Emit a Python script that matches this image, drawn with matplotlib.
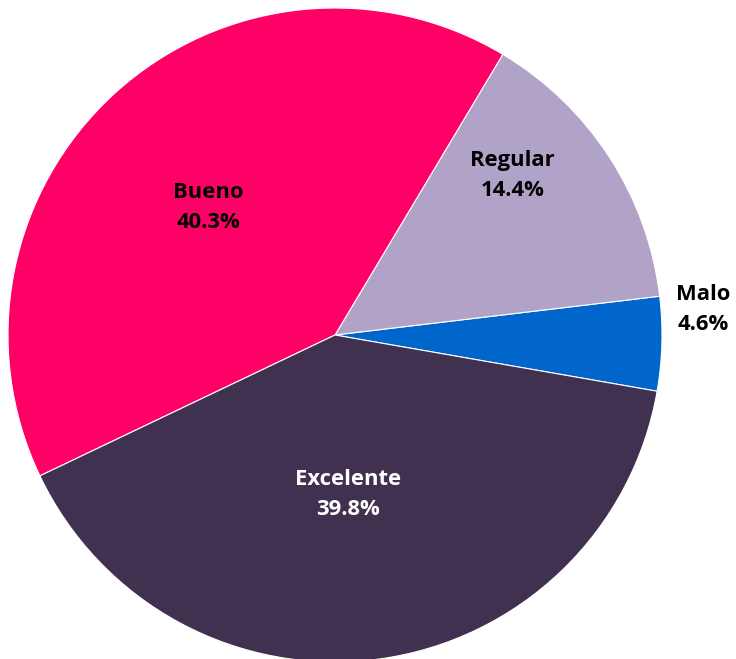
import numpy as np
import matplotlib.pyplot as plt

categorias = ["Malo", "Regular", "Bueno", "Excelente"]
porcentajes = [4.6, 14.4, 40.3, 39.8]
colores = ["#0066CC", "#B1A3C8", "#FF0066", "#403151"]
color_texto = ["black", "black", "black", "white"]

# label placement: radius (in pie radii) and angle nudge in degrees
pos_r = [1.13, 0.73, 0.55, 0.49]
pos_da = [5.5, 9.0, 2.4, -3.2]

fig = plt.figure(figsize=(7.36, 6.59), dpi=100)
ax = fig.add_axes([0, 0, 1, 1])

wedges, _ = ax.pie(porcentajes, colors=colores, startangle=-9.9, counterclock=True,
                   radius=1.0, wedgeprops=dict(edgecolor="white", linewidth=0.8))

for w, cat, p, c, r, da in zip(wedges, categorias, porcentajes, color_texto, pos_r, pos_da):
    ang = np.deg2rad((w.theta1 + w.theta2) / 2 + da)
    ax.text(r * np.cos(ang), r * np.sin(ang), f"{cat}\n{p:.1f}%",
            ha="center", va="center", color=c, fontsize=15.8, fontweight="bold",
            family=["Open Sans", "DejaVu Sans"], linespacing=1.55)

# 327 px radius, centre at (335, 335) from top-left
ax.set_xlim(-335 / 327, (736 - 335) / 327)
ax.set_ylim(-(659 - 335) / 327, 335 / 327)
ax.set_aspect("auto")
ax.axis("off")

fig.savefig("out.png", dpi=100)
